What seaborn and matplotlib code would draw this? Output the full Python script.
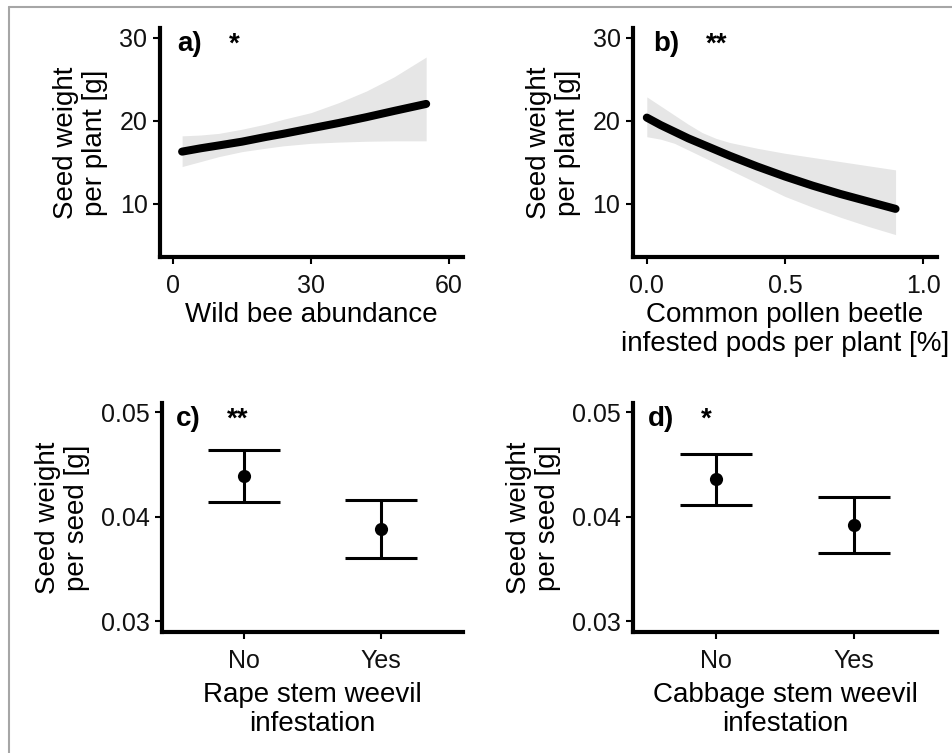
import matplotlib
matplotlib.use("Agg")
import matplotlib.pyplot as plt
import seaborn as sns
import numpy as np
import pandas as pd
from matplotlib.lines import Line2D

sns.set_theme(style="ticks")
plt.rcParams['font.family'] = ['Liberation Sans', 'DejaVu Sans']
plt.rcParams['text.color'] = 'black'
plt.rcParams['axes.labelcolor'] = 'black'

# ---- data ----
# panel a: wild bee abundance
bee_x = [2, 6, 10, 15, 20, 24, 30, 36, 42, 48, 55]
bee_fit = [16.3, 16.7, 17.05, 17.5, 18.05, 18.45, 19.1, 19.75, 20.45, 21.2, 22.05]
bee_lo = [14.5, 15.1, 15.7, 16.3, 16.7, 17.0, 17.3, 17.45, 17.55, 17.6, 17.6]
bee_hi = [18.2, 18.3, 18.5, 19.0, 19.6, 20.2, 21.0, 22.2, 23.6, 25.3, 27.7]

# panel b: common pollen beetle infested pods
pb_x = [0.0, 0.05, 0.1, 0.15, 0.2, 0.25, 0.3, 0.4, 0.5, 0.6, 0.7, 0.8, 0.9]
pb_fit = [20.4, 19.5, 18.7, 17.9, 17.2, 16.5, 15.8, 14.5, 13.3, 12.2, 11.2, 10.3, 9.4]
pb_lo = [18.1, 17.8, 17.3, 16.5, 15.7, 14.9, 14.1, 12.5, 10.9, 9.6, 8.4, 7.3, 6.3]
pb_hi = [22.9, 21.8, 20.7, 19.6, 18.6, 17.9, 17.4, 16.7, 16.1, 15.6, 15.1, 14.6, 14.1]

# panels c, d: seed weight per seed
cats = ["No", "Yes"]
rsw_mean = [0.0439, 0.0388]
rsw_lo = [0.0414, 0.0360]
rsw_hi = [0.0464, 0.0416]
csw_mean = [0.0436, 0.0392]
csw_lo = [0.0411, 0.0365]
csw_hi = [0.0460, 0.0419]

W, H = 952, 753
fig = plt.figure(figsize=(W / 100, H / 100), dpi=100)

def ax_at(l, t, r, b):
    return fig.add_axes([l / W, 1 - b / H, (r - l) / W, (b - t) / H])

axa = ax_at(160, 28, 463, 257)
axb = ax_at(633, 28, 937, 257)
axc = ax_at(162, 403, 463, 632)
axd = ax_at(633, 403, 937, 632)

TICK_FS = 18
TITLE_FS = 20
RIBBON = "#e6e6e6"

def style(ax):
    sns.despine(ax=ax)
    for s in ["left", "bottom"]:
        ax.spines[s].set_linewidth(3.0)
        ax.spines[s].set_color("black")
    ax.tick_params(axis="both", length=5, width=1.5, color="black",
                   labelsize=TICK_FS, labelcolor="#111111")
    ax.tick_params(axis="x", pad=7)
    ax.tick_params(axis="y", pad=4)
    ax.set_facecolor("white")

# panel a
dfa = pd.DataFrame({"x": bee_x, "fit": bee_fit})
axa.fill_between(bee_x, bee_lo, bee_hi, color=RIBBON, lw=0)
sns.lineplot(data=dfa, x="x", y="fit", ax=axa, color="black", lw=5.8)
axa.set_xlim(-2.8, 63)
axa.set_xticks([0, 30, 60])
axa.set_xlabel("Wild bee abundance", fontsize=TITLE_FS, labelpad=3)

# panel b
dfb = pd.DataFrame({"x": pb_x, "fit": pb_fit})
axb.fill_between(pb_x, pb_lo, pb_hi, color=RIBBON, lw=0)
sns.lineplot(data=dfb, x="x", y="fit", ax=axb, color="black", lw=5.8)
axb.set_xlim(-0.05, 1.05)
axb.set_xticks([0.0, 0.5, 1.0])
axb.set_xticklabels(["0.0", "0.5", "1.0"])
axb.set_xlabel("Common pollen beetle\ninfested pods per plant [%]",
               fontsize=TITLE_FS, labelpad=3, linespacing=1.15)

for ax in (axa, axb):
    ax.set_ylim(3.6, 31.2)
    ax.set_yticks([10, 20, 30])
    ax.set_ylabel("Seed weight\nper plant [g]", fontsize=TITLE_FS,
                  labelpad=8, linespacing=1.15)
    style(ax)

# panels c, d
for ax, mean, lo, hi, title in [
    (axc, rsw_mean, rsw_lo, rsw_hi, "Rape stem weevil\ninfestation"),
    (axd, csw_mean, csw_lo, csw_hi, "Cabbage stem weevil\ninfestation"),
]:
    df = pd.DataFrame({"cat": cats, "mean": mean, "lo": lo, "hi": hi})
    xs = np.arange(len(cats))
    ax.errorbar(xs, df["mean"],
                yerr=[df["mean"] - df["lo"], df["hi"] - df["mean"]],
                fmt="none", ecolor="black", elinewidth=2.2,
                capsize=26, capthick=2.2)
    sns.scatterplot(data=df, x="cat", y="mean", ax=ax, color="black",
                    s=90, edgecolor="black", linewidth=0, zorder=5)
    ax.set_xlim(-0.6, 1.6)
    ax.set_xticks(xs)
    ax.set_xticklabels(cats)
    ax.set_ylim(0.02895, 0.0509)
    ax.set_yticks([0.03, 0.04, 0.05])
    ax.set_yticklabels(["0.03", "0.04", "0.05"])
    ax.set_xlabel(title, fontsize=TITLE_FS, labelpad=7, linespacing=1.15)
    ax.set_ylabel("Seed weight\nper seed [g]", fontsize=TITLE_FS,
                  labelpad=8, linespacing=1.15)
    style(ax)

# panel labels and significance stars
for ax, lab, star, lx, sx in [(axa, "a)", "*", 0.056, 0.228),
                              (axb, "b)", "**", 0.066, 0.24),
                              (axc, "c)", "**", 0.045, 0.216),
                              (axd, "d)", "*", 0.05, 0.224)]:
    ax.text(lx, 0.985, lab, transform=ax.transAxes, fontsize=TITLE_FS,
            fontweight="bold", va="top", ha="left")
    ax.text(sx, 0.985, star, transform=ax.transAxes, fontsize=TITLE_FS,
            fontweight="bold", va="top", ha="left")

# outer frame lines (top and left)
fig.add_artist(Line2D([8.5 / W, 1], [1 - 6.5 / H, 1 - 6.5 / H],
                      transform=fig.transFigure, color="#a6a6a6", lw=1.5))
fig.add_artist(Line2D([8.5 / W, 8.5 / W], [0, 1 - 6.5 / H],
                      transform=fig.transFigure, color="#a6a6a6", lw=1.5))

fig.savefig("out.png", dpi=100, facecolor="white")
